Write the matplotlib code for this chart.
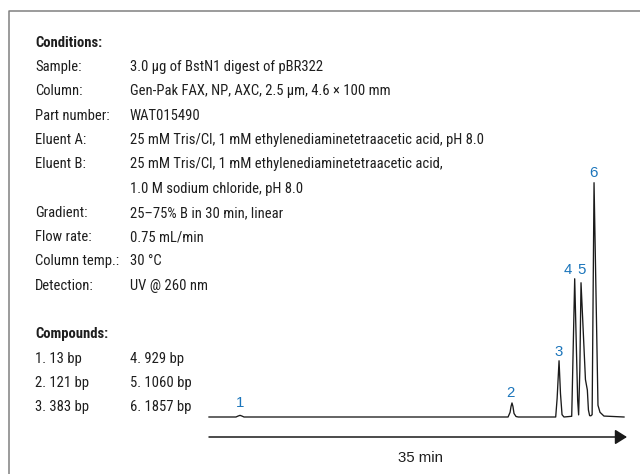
import matplotlib
matplotlib.use('Agg')
import matplotlib.pyplot as plt
from matplotlib import font_manager
from matplotlib.lines import Line2D
from matplotlib.patches import FancyArrowPatch, ArrowStyle

W, H = 640, 474

# condensed font for the conditions block, if one is installed
names = set(f.name for f in font_manager.fontManager.ttflist)
cond_font = 'DejaVu Sans'
for cand in ['Liberation Sans Narrow', 'Roboto Condensed', 'Open Sans Condensed', 'DejaVu Sans Condensed', 'Roboto']:
    if cand in names:
        cond_font = cand
        break
label_font = 'Liberation Sans' if 'Liberation Sans' in names else 'DejaVu Sans'

# text data
cond_labels = ['Sample:', 'Column:', 'Part number:', 'Eluent A:', 'Eluent B:', '',
               'Gradient:', 'Flow rate:', 'Column temp.:', 'Detection:']
cond_values = ['3.0 \u00b5g of BstN1 digest of pBR322',
               'Gen-Pak FAX, NP, AXC, 2.5 \u00b5m, 4.6 \u00d7 100 mm',
               'WAT015490',
               '25 mM Tris/Cl, 1 mM ethylenediaminetetraacetic acid, pH 8.0',
               '25 mM Tris/Cl, 1 mM ethylenediaminetetraacetic acid,',
               '1.0 M sodium chloride, pH 8.0',
               '25\u201375% B in 30 min, linear',
               '0.75 mL/min',
               '30 \u00b0C',
               'UV @ 260 nm']
compound_bp = [13, 121, 383, 929, 1060, 1857]

# chromatogram trace (time in min, relative signal)
trace_t = [0, 2.26, 2.43, 2.60, 2.76, 2.93,
           25.04, 25.21, 25.29, 25.37, 25.45, 25.54, 25.71, 25.90,
           29.03, 29.15, 29.31, 29.43, 29.56, 29.72,
           30.37, 30.40, 30.62, 30.87, 30.95,
           31.05, 31.15, 31.52, 31.68, 31.77, 31.87,
           31.97, 32.08, 32.24, 32.57, 32.74, 33.07, 34.75]
trace_h = [0, 0, 0.4, 0.7, 0.4, 0,
           0, 2, 4.5, 6, 4.5, 1.5, 0.2, 0,
           0, 8, 24, 10, 1, 0,
           0.3, 7, 59, 7, 0.9,
           20, 57.3, 16, 11.5, 3, 0.6,
           0.5, 1, 100, 5, 2, 0.4, 0]

peak_ids = ['1', '2', '3', '4', '5', '6']
peak_t = [2.60, 25.37, 29.31, 30.62, 31.15, 32.24]
peak_h = [0.7, 6, 24, 59, 57.3, 100]
lab_off = [(0, 8.9), (-1.4, 7.0), (-0.5, 6.0), (-5, 6.5), (0.5, 9.1), (-0.5, 7.2)]  # points

txt_col = '#1e1e1e'
blue = '#1b75bb'
fs = 10.5

fig = plt.figure(figsize=(W / 100, H / 100), dpi=100)


def fx(x):
    return x / W


def fy(y):
    return 1 - y / H


# border (top and left only)
fig.add_artist(Line2D([fx(9), fx(9), 1.0], [0.0, fy(11), fy(11)], color='#808080', lw=1.1))

# conditions block
x_lab, x_val = 35, 129.5
y0, dy = 42.7, 24.3
fig.text(fx(x_lab), fy(y0), 'Conditions:', family=cond_font, fontsize=fs, weight='bold',
         color=txt_col, va='center', ha='left')
for i, (lab, val) in enumerate(zip(cond_labels, cond_values)):
    yy = fy(y0 + dy * (i + 1))
    if lab:
        fig.text(fx(x_lab), yy, lab, family=cond_font, fontsize=fs, color=txt_col, va='center')
    fig.text(fx(x_val), yy, val, family=cond_font, fontsize=fs, color=txt_col, va='center')

fig.text(fx(x_lab), fy(y0 + dy * 12), 'Compounds:', family=cond_font, fontsize=fs, weight='bold',
         color=txt_col, va='center')
for i, bp in enumerate(compound_bp):
    col, row = divmod(i, 3)
    fig.text(fx(x_lab if col == 0 else x_val), fy(y0 + dy * (13 + row)), '%d. %d bp' % (i + 1, bp),
             family=cond_font, fontsize=fs, color=txt_col, va='center')

# chromatogram axes: x 0-35 min over px 209-627, signal 0-100 over px 417-182.7
ax = fig.add_axes([fx(209), fy(417), (627 - 209) / W, (417 - 182.7) / H])
ax.set_xlim(0, 35)
ax.set_ylim(0, 100)
ax.axis('off')
ax.plot(trace_t, trace_h, color='#1a1a1a', lw=0.95, clip_on=False, solid_joinstyle='round')

for pid, t, h, off in zip(peak_ids, peak_t, peak_h, lab_off):
    ax.annotate(pid, (t, h), xytext=off, textcoords='offset points', ha='center', va='center',
                color=blue, fontsize=10.8, family=label_font, annotation_clip=False)

# time arrow
y_arrow = -(437 - 417) / ((417 - 182.7) / 100)
arr = FancyArrowPatch((0, y_arrow), (35, y_arrow),
                      arrowstyle=ArrowStyle('-|>', head_length=7.2, head_width=4.5),
                      mutation_scale=1, shrinkA=0, shrinkB=0, color='#1a1a1a', lw=1.1,
                      clip_on=False)
ax.add_patch(arr)
ax.text(17.7, -(458 - 417) / ((417 - 182.7) / 100), '35 min', ha='center', va='center',
        fontsize=10.8, family=label_font, color=txt_col, clip_on=False)

fig.savefig('out.png', dpi=100)
